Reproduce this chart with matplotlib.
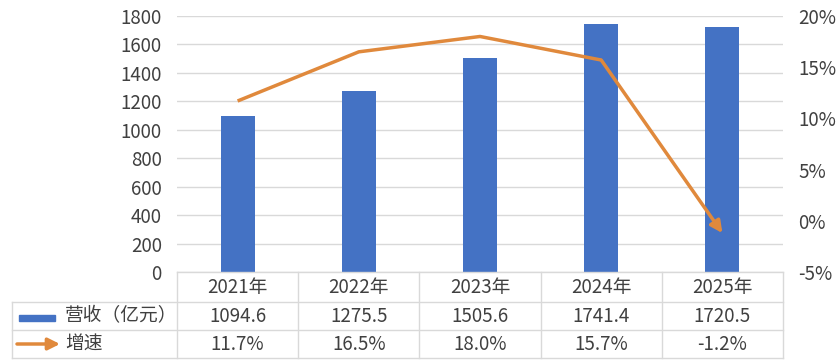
import matplotlib
matplotlib.use("Agg")
import matplotlib.pyplot as plt
from matplotlib.patches import Rectangle, FancyArrowPatch
from matplotlib.transforms import blended_transform_factory

plt.rcParams['font.family'] = ['Noto Sans CJK SC', 'DejaVu Sans']

categories = ["2021年", "2022年", "2023年", "2024年", "2025年"]
revenue = [1094.6, 1275.5, 1505.6, 1741.4, 1720.5]
growth = [11.7, 16.5, 18.0, 15.7, -1.2]
revenue_labels = ["1094.6", "1275.5", "1505.6", "1741.4", "1720.5"]
growth_labels = ["11.7%", "16.5%", "18.0%", "15.7%", "-1.2%"]
series_names = ["营收（亿元）", "增速"]
left_ticks = [0, 200, 400, 600, 800, 1000, 1200, 1400, 1600, 1800]
right_ticks = [-5, 0, 5, 10, 15, 20]

BLUE = "#4472C4"
ORANGE = "#E0893C"
TXT = "#404040"
GRID = "#D9D9D9"
FS = 13.5

W, H = 837, 363
fig = plt.figure(figsize=(W / 100, H / 100), dpi=100)

def fx(px):
    return px / W

def fy(py):
    return 1 - py / H

ax_l, ax_r, ax_t, ax_b = 177, 783, 16, 272
ax = fig.add_axes([fx(ax_l), fy(ax_b), fx(ax_r) - fx(ax_l), fy(ax_t) - fy(ax_b)])
x = list(range(len(categories)))
ax.bar(x, revenue, width=0.28, color=BLUE, zorder=3)
ax.set_xlim(-0.5, len(categories) - 0.5)
ax.set_ylim(0, 1800)
ax.set_yticks(left_ticks)
ax.set_yticklabels([str(t) for t in left_ticks])
ax.tick_params(axis='y', length=0, labelsize=FS, colors=TXT, pad=11)
ax.set_xticks([])
ax.grid(axis='y', color=GRID, linewidth=1, zorder=0)
for s in ax.spines.values():
    s.set_visible(False)

ax2 = ax.twinx()
ax2.set_ylim(-5, 20)
ax2.set_yticks(right_ticks)
ax2.set_yticklabels([f"{t}%" for t in right_ticks])
ax2.tick_params(axis='y', length=0, labelsize=FS, colors=TXT, pad=11)
for s in ax2.spines.values():
    s.set_visible(False)
ax2.plot(x[:-1], growth[:-1], color=ORANGE, linewidth=2.5, solid_capstyle='butt', zorder=4)
ax2.annotate("", xy=(x[-1], growth[-1]), xytext=(x[-2], growth[-2]),
             arrowprops=dict(arrowstyle="-|>,head_length=0.7,head_width=0.35",
                             color=ORANGE, lw=2.5, shrinkA=0, shrinkB=0),
             zorder=4)

# Data table below the chart
bt = blended_transform_factory(ax.transData, fig.transFigure)
row_lines = [272, 302, 330, 358]
row_mid = [(row_lines[i] + row_lines[i + 1]) / 2 for i in range(3)]
tbl_left = 12
lw_t = 1.0
fig.add_artist(plt.Line2D([fx(ax_l), fx(ax_r)], [fy(272)] * 2, color=GRID, lw=lw_t))
for yy in row_lines[1:]:
    fig.add_artist(plt.Line2D([fx(tbl_left), fx(ax_r)], [fy(yy)] * 2, color=GRID, lw=lw_t))
for k in range(len(categories) + 1):
    xb = ax_l + k * (ax_r - ax_l) / len(categories)
    fig.add_artist(plt.Line2D([fx(xb)] * 2, [fy(272), fy(358)], color=GRID, lw=lw_t))
fig.add_artist(plt.Line2D([fx(tbl_left)] * 2, [fy(302), fy(358)], color=GRID, lw=lw_t))

for i, c in enumerate(categories):
    fig.text(0, 0, c, transform=bt, ha='center', va='center', fontsize=FS, color=TXT).set_position((i, fy(row_mid[0])))
    fig.text(0, 0, revenue_labels[i], transform=bt, ha='center', va='center', fontsize=FS, color=TXT).set_position((i, fy(row_mid[1])))
    fig.text(0, 0, growth_labels[i], transform=bt, ha='center', va='center', fontsize=FS, color=TXT).set_position((i, fy(row_mid[2])))

# legend keys in table
fig.add_artist(Rectangle((fx(19), fy(321)), fx(55) - fx(19), fy(315) - fy(321), color=BLUE, transform=fig.transFigure))
fig.add_artist(FancyArrowPatch((fx(17), fy(344)), (fx(60), fy(344)), transform=fig.transFigure,
                               arrowstyle="-|>,head_length=0.7,head_width=0.35", color=ORANGE, lw=2.5,
                               mutation_scale=10, shrinkA=0, shrinkB=0))
fig.text(fx(65), fy(row_mid[1]), series_names[0], ha='left', va='center', fontsize=FS, color=TXT)
fig.text(fx(65), fy(row_mid[2]), series_names[1], ha='left', va='center', fontsize=FS, color=TXT)

fig.savefig("out.png", dpi=100, facecolor="white")
